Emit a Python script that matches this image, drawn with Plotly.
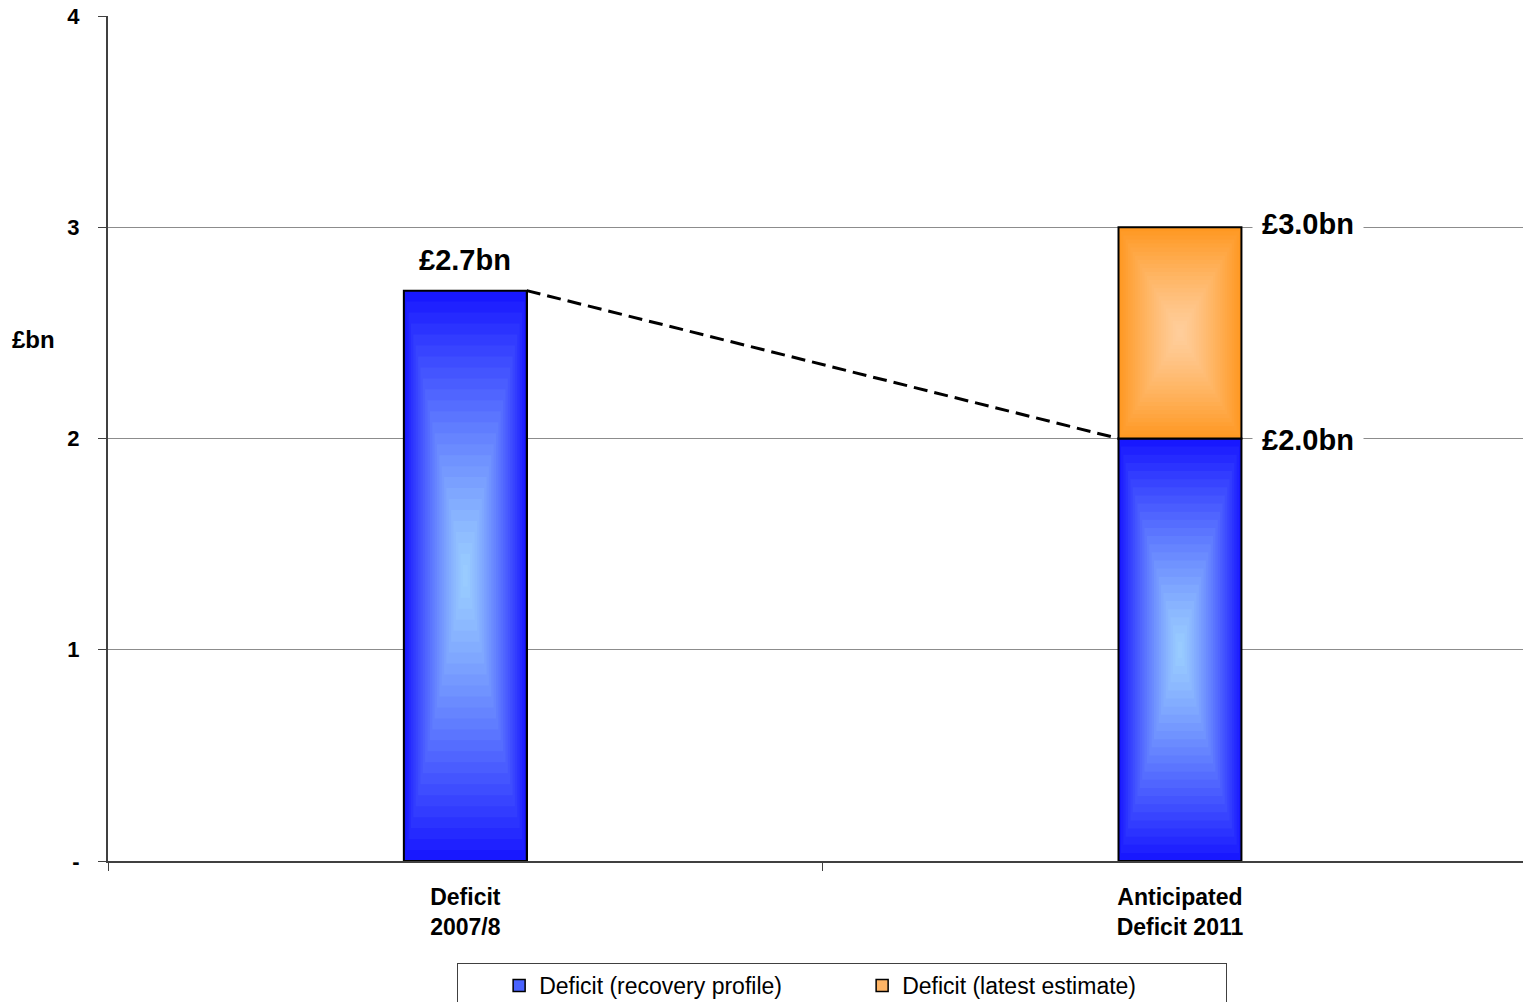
import plotly.graph_objects as go

# Category labels and the two stacked series (in £bn)
categories = ["Deficit<br>2007/8", "Anticipated<br>Deficit 2011"]
recovery_profile = [2.7, 2.0]
latest_estimate = [None, 1.0]
series_names = ["Deficit (recovery profile)", "Deficit (latest estimate)"]
y_tick_values = [0, 1, 2, 3, 4]
y_tick_labels = ["-", "1", "2", "3", "4"]

FONT = "Arial, 'Liberation Sans', sans-serif"
BAR_W = 0.172
AXIS_COLOR = "#404040"
BLUE_EDGE, BLUE_MID = (24, 24, 255), (155, 206, 255)
ORANGE_EDGE, ORANGE_MID = (255, 152, 34), (255, 206, 156)
SHADE_STEPS = 26


def rgb(c):
    return f"rgb({round(c[0])},{round(c[1])},{round(c[2])})"


def lerp(a, b, t):
    return tuple(a[i] + (b[i] - a[i]) * t for i in range(3))


x_pos = list(range(len(categories)))

fig = go.Figure()

# Base bars (these also provide the legend entries)
fig.add_bar(
    x=x_pos, y=recovery_profile, width=BAR_W, name=series_names[0],
    marker=dict(color="#4a63ff", line=dict(color="black", width=1.5)),
    hoverinfo="skip",
)
fig.add_bar(
    x=x_pos, y=latest_estimate, width=BAR_W, name=series_names[1],
    marker=dict(color="#ffb566", line=dict(color="black", width=1.5)),
    hoverinfo="skip",
)


def shaded_block(xc, y0, y1, edge, mid):
    """Paint a bar segment with a rectangular 'from centre' gradient, then outline it."""
    hw, hh, yc = BAR_W / 2, (y1 - y0) / 2, (y0 + y1) / 2
    for j in range(SHADE_STEPS):
        k = 1 - j / SHADE_STEPS
        dx, dy = hw * k, hh * k
        fig.add_scatter(
            x=[xc - dx, xc + dx, xc + dx, xc - dx, xc - dx],
            y=[yc - dy, yc - dy, yc + dy, yc + dy, yc - dy],
            mode="lines", fill="toself", line=dict(width=0),
            fillcolor=rgb(lerp(mid, edge, k ** 1.3)),
            showlegend=False, hoverinfo="skip",
        )
    fig.add_scatter(
        x=[xc - hw, xc + hw, xc + hw, xc - hw, xc - hw],
        y=[y0, y0, y1, y1, y0],
        mode="lines", line=dict(width=2, color="black"),
        showlegend=False, hoverinfo="skip",
    )


for i in x_pos:
    base = recovery_profile[i]
    shaded_block(i, 0, base, BLUE_EDGE, BLUE_MID)
    if latest_estimate[i]:
        shaded_block(i, base, base + latest_estimate[i], ORANGE_EDGE, ORANGE_MID)

# Dashed connector from the 2007/8 bar top to the 2011 recovery-profile level
fig.add_scatter(
    x=[x_pos[0] + BAR_W / 2, x_pos[1] - BAR_W / 2],
    y=[recovery_profile[0], recovery_profile[1]],
    mode="lines", line=dict(color="black", width=3, dash="14px,7px"),
    showlegend=False, hoverinfo="skip",
)

label_font = dict(family=FONT, size=29, color="black", weight="bold")

# Value label above the first bar
fig.add_annotation(
    x=x_pos[0], y=recovery_profile[0], text=f"£{recovery_profile[0]:.1f}bn",
    showarrow=False, yanchor="bottom", yshift=13, font=label_font,
)
# Value labels to the right of the second bar
total_2011 = recovery_profile[1] + latest_estimate[1]
for val, nudge in ((total_2011, 3), (recovery_profile[1], -1)):
    fig.add_annotation(
        x=x_pos[1] + BAR_W / 2, y=val, text=f"£{val:.1f}bn",
        showarrow=False, xanchor="left", yanchor="middle", xshift=11, yshift=nudge,
        bgcolor="white", borderpad=9, font=label_font,
    )

# Y-axis unit label
fig.add_annotation(
    xref="paper", yref="paper", x=-0.053, y=0.6166, text="£bn",
    showarrow=False, xanchor="center", yanchor="middle",
    font=dict(family=FONT, size=24, color="black", weight="bold"),
)

fig.update_layout(
    width=1523, height=1002,
    margin=dict(l=108, r=0, t=16, b=141, autoexpand=False),
    plot_bgcolor="white", paper_bgcolor="white",
    barmode="stack",
    font=dict(family=FONT, color="black"),
    xaxis=dict(
        range=[-0.5, 1.48], tickvals=x_pos, ticktext=categories,
        ticks="", showline=True, linecolor=AXIS_COLOR, linewidth=2,
        showgrid=False, zeroline=False, ticklabelstandoff=14,
        tickfont=dict(family=FONT, size=23, color="black", weight="bold"),
        minor=dict(tickvals=[i - 0.5 for i in range(len(categories) + 1)],
                   ticks="outside", ticklen=8, tickwidth=1, tickcolor=AXIS_COLOR,
                   showgrid=False),
    ),
    yaxis=dict(
        range=[0, 4], tickvals=y_tick_values, ticktext=y_tick_labels,
        ticks="outside", ticklen=8, tickwidth=1, tickcolor=AXIS_COLOR,
        showline=True, linecolor=AXIS_COLOR, linewidth=2,
        showgrid=True, gridcolor="#8c8c8c", gridwidth=1, zeroline=False,
        ticklabelstandoff=14,
        tickfont=dict(family=FONT, size=22, color="black", weight="bold"),
    ),
    legend=dict(
        orientation="h", x=(457 - 108) / 1415, xanchor="left",
        y=(861 - 963) / 845, yanchor="top",
        bordercolor=AXIS_COLOR, borderwidth=1, bgcolor="white",
        font=dict(family=FONT, size=23, color="black"),
        entrywidth=318, traceorder="normal",
        title=dict(text="\u00a0" * 4, side="left"),
    ),
)

fig.write_html("out.html")
